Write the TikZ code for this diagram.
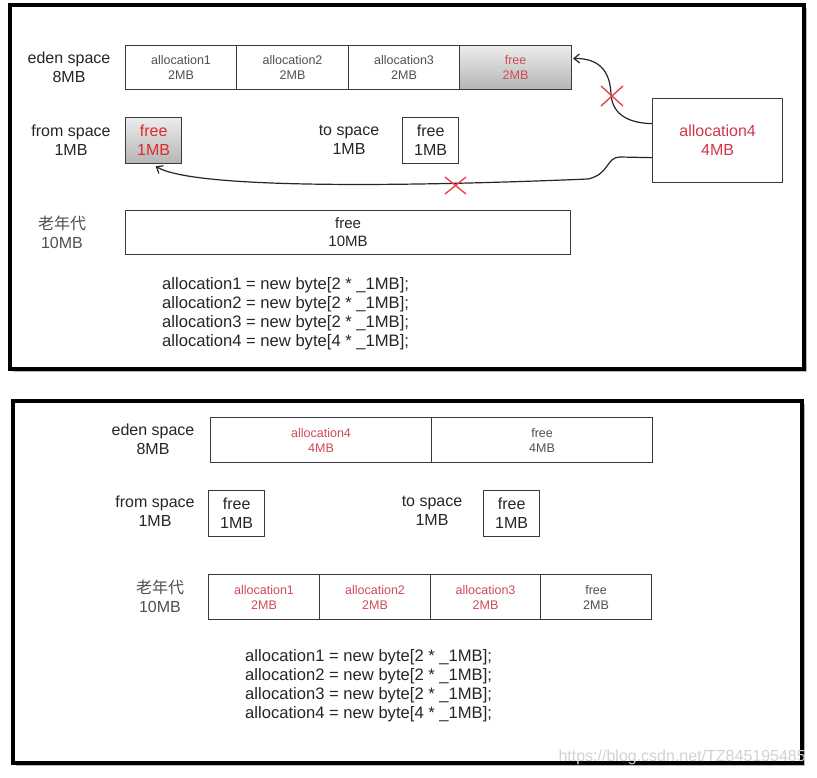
\documentclass[tikz,border=0pt]{standalone}
\usepackage{fontspec}
\setmainfont{Liberation Sans}
\newfontfamily\cjk{Noto Sans CJK SC}
\usetikzlibrary{arrows.meta,calc}
\definecolor{boxline}{HTML}{3A3A3A}
\definecolor{txtgray}{HTML}{505050}
\definecolor{txtdark}{HTML}{262626}
\definecolor{redA}{HTML}{D0384A}
\definecolor{redB}{HTML}{E02A2A}
\definecolor{redC}{HTML}{D04A58}
\definecolor{crossred}{HTML}{E8444A}
\tikzset{
  frame/.style={draw=black, line width=3.2pt, fill=white},
  shadowbox/.style={fill=gray!55},
  cell/.style={draw=boxline, line width=1.1pt, anchor=north west, inner sep=0pt,
    align=center, font=\fontsize{12.5}{15}\selectfont, text=txtgray},
  small/.style={draw=boxline, line width=1.3pt, anchor=north west, inner sep=0pt,
    align=center, font=\fontsize{16}{19}\selectfont, text=txtdark,
    minimum width=56pt, minimum height=46pt},
  shaded/.style={top color=gray!15, bottom color=gray!58},
  lbl/.style={align=center, font=\fontsize{16}{19}\selectfont, text=txtdark, inner sep=0pt},
  code/.style={align=left, anchor=west, font=\fontsize{16.6}{19}\selectfont, text=txtdark, inner sep=0pt},
  conn/.style={draw=txtdark, line width=1.2pt, -{Straight Barb[length=5.5pt,width=9pt]}},
  cross/.style={draw=crossred, line width=1.4pt},
}
\begin{document}
\begin{tikzpicture}[x=1pt,y=-1pt]
\useasboundingbox (0,0) rectangle (817,777);
% ---------- top panel ----------
\fill[shadowbox] (13,8) rectangle (807,372);
\draw[frame] (10,5) rectangle (804,369);
\node[lbl] (tL1) at (69,67) {eden space\\8MB};
\node[cell, minimum width=111pt, minimum height=44pt] (te1) at (125,45) {allocation1\\2MB};
\node[cell, minimum width=112pt, minimum height=44pt] (te2) at (236,45) {allocation2\\2MB};
\node[cell, minimum width=111pt, minimum height=44pt] (te3) at (348,45) {allocation3\\2MB};
\node[cell, shaded, minimum width=112pt, minimum height=44pt, text=redC] (te4) at (459,45) {free\\2MB};
\node[lbl] (tL2) at (71,140) {from space\\1MB};
\node[small, shaded, text=redB] (tfrom) at (125,117) {free\\1MB};
\node[lbl] (tL3) at (349,140) {to space\\1MB};
\node[small] (tto) at (402,117) {free\\1MB};
\node[small, minimum width=130pt, minimum height=84pt, text=redA] (ta4) at (652,98) {allocation4\\4MB};
\node[lbl, text=txtgray] (tL4) at (62,232) {{\cjk 老年代}\\10MB};
\node[cell, minimum width=445pt, minimum height=44pt, font=\fontsize{15}{18}\selectfont, text=txtdark] (told) at (125,210) {free\\10MB};
\node[code] (tcode) at (162,313.5) {allocation1 = new byte[2 * \_1MB];\\allocation2 = new byte[2 * \_1MB];\\allocation3 = new byte[2 * \_1MB];\\allocation4 = new byte[4 * \_1MB];};
% arrows
\coordinate (tp1) at (611,94);
\draw[conn] ($(ta4.west)+(0,-17)$) .. controls (625,123) and (612,112) .. (tp1)
  .. controls (610,70) and (598,58) .. ($(te4.east)+(1,-9)$);
\coordinate (tp2) at (620,157);
\coordinate (tp3) at (588,179);
\draw[conn] ($(ta4.west)+(0,17)$) -- (tp2) .. controls (606,157) and (610,174) .. (tp3)
  .. controls (420,186) and (195,190) .. ($(tfrom.south)+(2,2)$);
\draw[cross] (601,86) -- (623,106) (601,106) -- (623,86);
\draw[cross] (445,177) -- (466,194) (445,194) -- (466,177);
% ---------- bottom panel ----------
\fill[shadowbox] (16,404) rectangle (805,766);
\draw[frame] (13,401) rectangle (802,763);
\node[lbl] (bL1) at (153,439) {eden space\\8MB};
\node[cell, minimum width=221pt, minimum height=45pt, text=redC] (be1) at (210,417) {allocation4\\4MB};
\node[cell, minimum width=221pt, minimum height=45pt] (be2) at (431,417) {free\\4MB};
\node[lbl] (bL2) at (155,511) {from space\\1MB};
\node[small] (bfrom) at (208,490) {free\\1MB};
\node[lbl] (bL3) at (432,511) {to space\\1MB};
\node[small] (bto) at (483,490) {free\\1MB};
\node[lbl, text=txtgray] (bL4) at (160,596) {{\cjk 老年代}\\10MB};
\node[cell, minimum width=111pt, minimum height=45pt, text=redC] (bo1) at (208,574) {allocation1\\2MB};
\node[cell, minimum width=111pt, minimum height=45pt, text=redC] (bo2) at (319,574) {allocation2\\2MB};
\node[cell, minimum width=110pt, minimum height=45pt, text=redC] (bo3) at (430,574) {allocation3\\2MB};
\node[cell, minimum width=111pt, minimum height=45pt] (bo4) at (540,574) {free\\2MB};
\node[code] (bcode) at (245,685.5) {allocation1 = new byte[2 * \_1MB];\\allocation2 = new byte[2 * \_1MB];\\allocation3 = new byte[2 * \_1MB];\\allocation4 = new byte[4 * \_1MB];};
\node[anchor=east, inner sep=0pt, text=gray!35, font=\fontsize{16}{18}\selectfont] (wm) at (806,757) {https://blog.csdn.net/TZ845195485};
\end{tikzpicture}
\end{document}
